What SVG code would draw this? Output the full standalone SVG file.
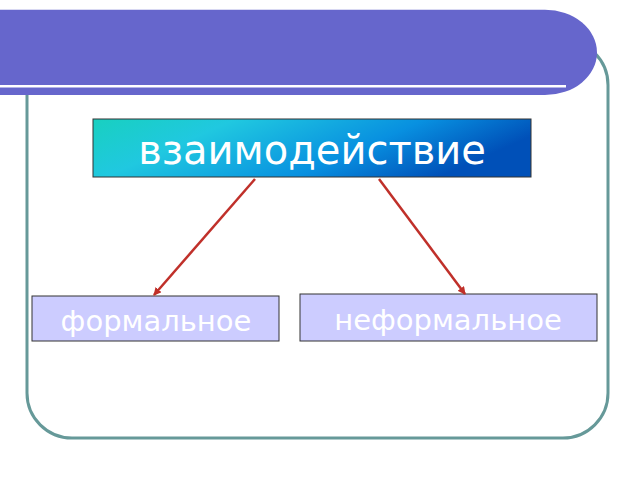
<svg xmlns="http://www.w3.org/2000/svg" width="640" height="480" viewBox="0 0 640 480">
<defs>
<linearGradient id="g" x1="0" y1="0" x2="1" y2="0.3">
<stop offset="0" stop-color="#18d0c0"/><stop offset="0.3" stop-color="#20c8e0"/><stop offset="0.7" stop-color="#0890e0"/><stop offset="1" stop-color="#0050b8"/>
</linearGradient>
<marker id="a" markerWidth="8" markerHeight="8" refX="7" refY="4" orient="auto" markerUnits="userSpaceOnUse"><path d="M0,0 L8,4 L0,8 Z" fill="#c0302a"/></marker>
<style>.b{fill:#ccccff;stroke:#333;stroke-width:1}.t{font-family:"DejaVu Sans",sans-serif;fill:#fff;text-anchor:middle}.c{stroke:#c0302a;stroke-width:2.5;fill:none}</style>
</defs>
<rect x="27" y="40" width="581" height="398" rx="45" fill="#fff" stroke="#669999" stroke-width="3"/>
<path d="M0,12 H545 A52,52 0 0 1 545,116 H0 Z" fill="#6666cc" transform="scale(1,0.82)"/>
<rect x="0" y="85" width="566" height="2.5" fill="#fff"/>
<g id="n1"><rect x="93" y="119" width="438" height="58" fill="url(#g)" stroke="#333"/><text class="t" x="312" y="164" font-size="40">взаимодействие</text></g>
<g id="n2"><rect class="b" x="32" y="296" width="247" height="45"/><text class="t" x="156" y="331" font-size="29">формальное</text></g>
<g id="n3"><rect class="b" x="300" y="294" width="297" height="47"/><text class="t" x="448" y="330" font-size="29">неформальное</text></g>
<g id="edges"><line class="c" x1="255" y1="179" x2="154" y2="295" marker-end="url(#a)"/><line class="c" x1="379" y1="179" x2="465" y2="294" marker-end="url(#a)"/></g>
</svg>
